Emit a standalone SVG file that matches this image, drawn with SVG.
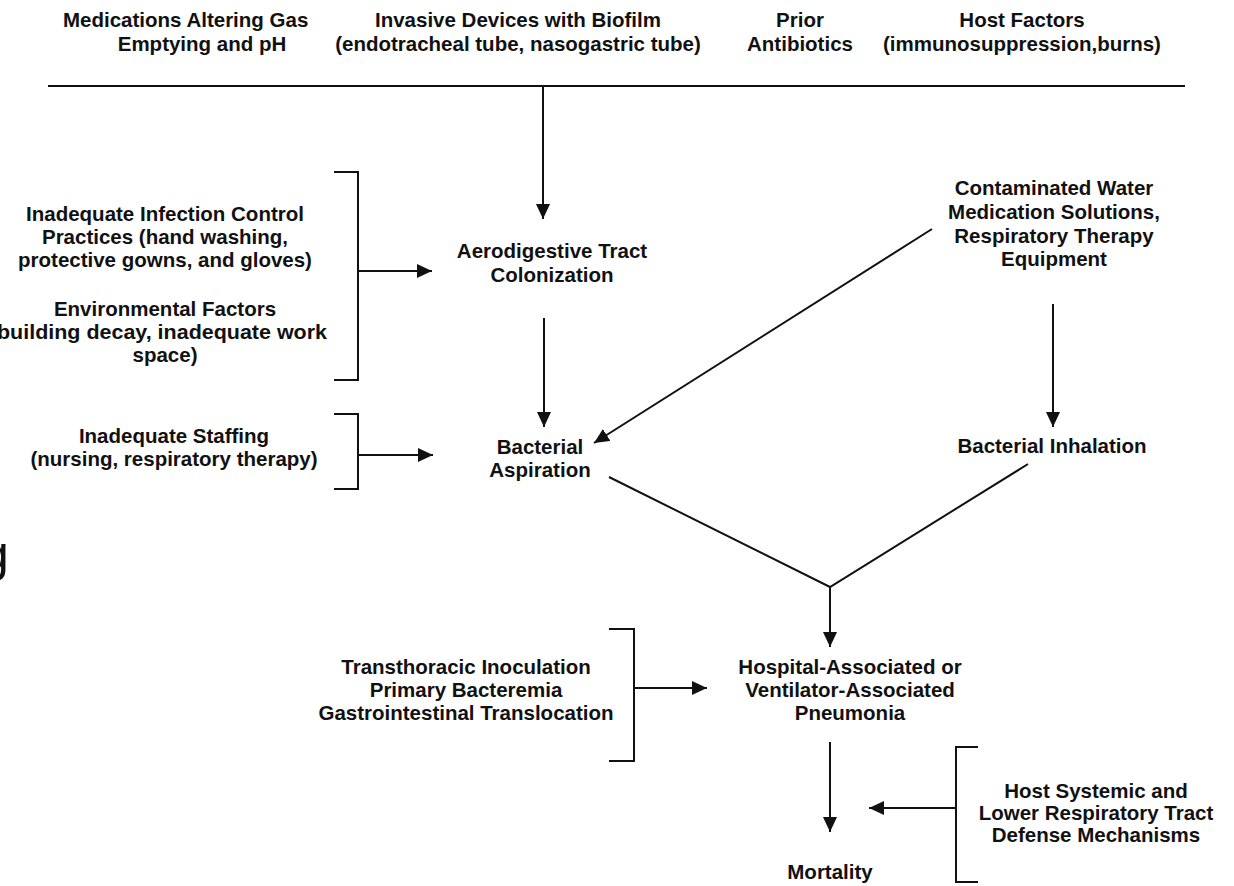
<svg xmlns="http://www.w3.org/2000/svg" width="1234" height="886" viewBox="0 0 1234 886">
<style>
text{font-family:"Liberation Sans",Arial,sans-serif;font-weight:bold;font-size:20.5px;fill:#111;text-anchor:middle}
.ln{stroke:#111;stroke-width:2;fill:none}
.st{font-weight:normal;font-size:50px;text-anchor:start}
</style>
<defs>
<marker id="ah" markerUnits="userSpaceOnUse" markerWidth="16" markerHeight="14" refX="15" refY="7" orient="auto" viewBox="0 0 16 14">
<path d="M0,0 L15,7 L0,14 z" fill="#111"/>
</marker>
</defs>
<rect width="1234" height="886" fill="#fff"/>
<g id="connectors">
<line class="ln" x1="48" y1="86" x2="1185" y2="86"/>
<line class="ln" x1="543" y1="86" x2="543" y2="219" marker-end="url(#ah)"/>
<line class="ln" x1="544" y1="318" x2="544" y2="427" marker-end="url(#ah)"/>
<path class="ln" d="M334,172 H358 V380 H334"/>
<line class="ln" x1="358" y1="271" x2="432" y2="271" marker-end="url(#ah)"/>
<path class="ln" d="M334,414 H358 V489 H334"/>
<line class="ln" x1="358" y1="455" x2="433" y2="455" marker-end="url(#ah)"/>
<line class="ln" x1="932" y1="229" x2="594" y2="443" marker-end="url(#ah)"/>
<line class="ln" x1="1053" y1="304" x2="1053" y2="427" marker-end="url(#ah)"/>
<polyline class="ln" points="609,477 830,587 1028,464"/>
<line class="ln" x1="830" y1="587" x2="830" y2="647" marker-end="url(#ah)"/>
<path class="ln" d="M609,629 H634 V761 H609"/>
<line class="ln" x1="634" y1="688" x2="707" y2="688" marker-end="url(#ah)"/>
<line class="ln" x1="830" y1="742" x2="830" y2="832" marker-end="url(#ah)"/>
<path class="ln" d="M978,747 H956 V882 H978"/>
<line class="ln" x1="956" y1="808" x2="869" y2="808" marker-end="url(#ah)"/>
</g>
<g id="medications"><text x="63" y="27" style="text-anchor:start">Medications Altering Gas</text><text x="202" y="51">Emptying and pH</text></g>
<g id="devices"><text x="518" y="27">Invasive Devices with Biofilm</text><text x="518" y="51">(endotracheal tube, nasogastric tube)</text></g>
<g id="antibiotics"><text x="800" y="27">Prior</text><text x="800" y="51">Antibiotics</text></g>
<g id="host"><text x="1022" y="27">Host Factors</text><text x="1022" y="51">(immunosuppression,burns)</text></g>
<g id="colonization"><text x="552" y="258">Aerodigestive Tract</text><text x="552" y="282">Colonization</text></g>
<g id="infection-control"><text x="165" y="221">Inadequate Infection Control</text><text x="165" y="244">Practices (hand washing,</text><text x="165" y="267">protective gowns, and gloves)</text><text x="165" y="316">Environmental Factors</text><text x="162" y="339" textLength="330" lengthAdjust="spacingAndGlyphs">building decay, inadequate work</text><text x="165" y="362">space)</text></g>
<g id="staffing"><text x="174" y="443">Inadequate Staffing</text><text x="174" y="466">(nursing, respiratory therapy)</text></g>
<g id="aspiration"><text x="540" y="454">Bacterial</text><text x="540" y="477">Aspiration</text></g>
<g id="contaminated"><text x="1054" y="195">Contaminated Water</text><text x="1054" y="219">Medication Solutions,</text><text x="1054" y="243">Respiratory Therapy</text><text x="1054" y="266">Equipment</text></g>
<g id="inhalation"><text x="1052" y="453">Bacterial Inhalation</text></g>
<g id="stray"><text class="st" x="-19" y="571">g</text></g>
<g id="other-routes"><text x="466" y="674">Transthoracic Inoculation</text><text x="466" y="697">Primary Bacteremia</text><text x="466" y="720">Gastrointestinal Translocation</text></g>
<g id="pneumonia"><text x="850" y="674">Hospital-Associated or</text><text x="850" y="697">Ventilator-Associated</text><text x="850" y="720">Pneumonia</text></g>
<g id="mortality"><text x="830" y="879">Mortality</text></g>
<g id="defense"><text x="1096" y="798">Host Systemic and</text><text x="1096" y="820">Lower Respiratory Tract</text><text x="1096" y="842">Defense Mechanisms</text></g>
</svg>
